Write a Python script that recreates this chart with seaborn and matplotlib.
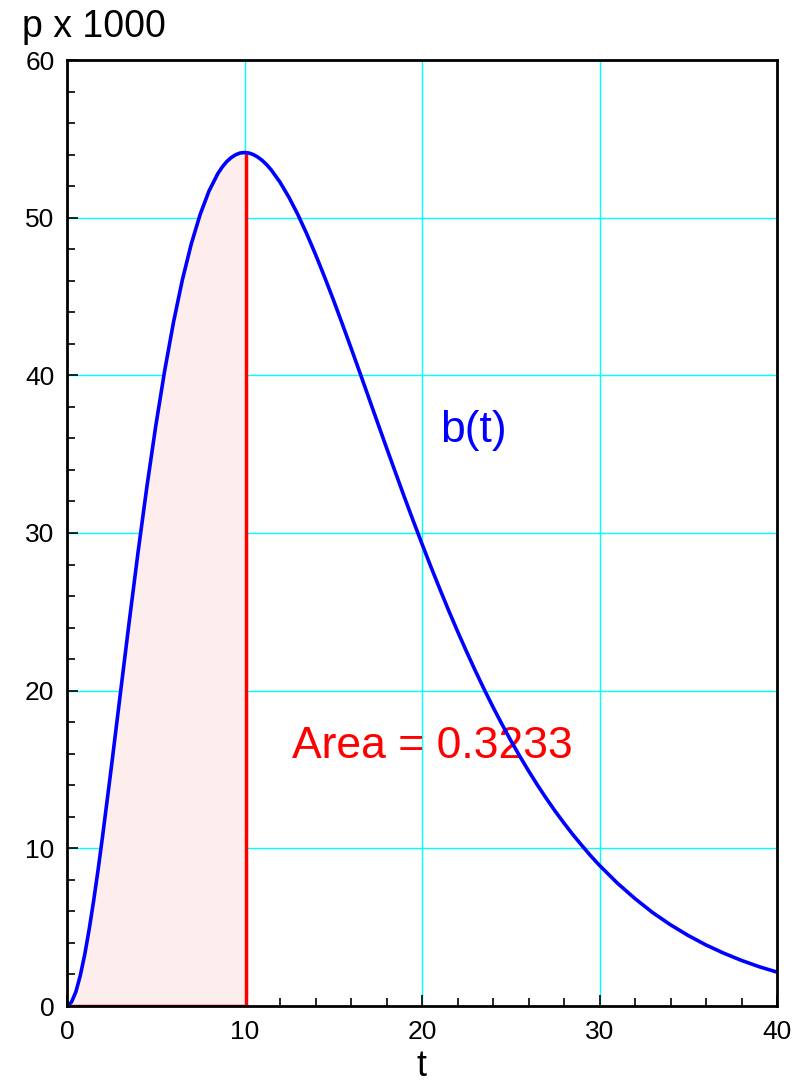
import matplotlib
matplotlib.use("Agg")
import matplotlib.pyplot as plt
import seaborn as sns
import pandas as pd
from matplotlib.ticker import MultipleLocator

# curve values (p x 1000)
t_vals = [0, 0.25, 0.5, 0.75, 1, 1.25, 1.5, 1.75, 2, 2.5, 3, 3.5, 4, 4.5, 5, 5.5, 6, 6.5,
          7, 7.5, 8, 8.5, 8.75, 9, 9.25, 9.5, 9.75, 10, 10.25, 10.5, 10.75, 11, 11.25,
          11.5, 12, 12.5, 13, 13.5, 14, 14.5, 15, 15.5, 16, 16.5, 17, 17.5, 18, 18.5,
          19, 19.5, 20, 20.5, 21, 21.5, 22, 22.5, 23, 23.5, 24, 24.5, 25, 25.5, 26,
          26.5, 27, 27.5, 28, 28.5, 29, 29.5, 30, 31, 32, 33, 34, 35, 36, 37, 38, 39, 40]
p_vals = [0.0, 0.24, 0.9, 1.94, 3.27, 4.87, 6.67, 8.63, 10.73, 15.16, 19.76, 24.33,
          28.76, 32.93, 36.79, 40.28, 43.37, 46.06, 48.33, 50.20, 51.69, 52.80, 53.22,
          53.56, 53.81, 53.99, 54.10, 54.13, 54.10, 54.00, 53.84, 53.63, 53.36,
          53.04, 52.25, 51.30, 50.21, 48.99, 47.67, 46.27, 44.81, 43.29, 41.74, 40.17,
          38.58, 36.99, 35.41, 33.85, 32.30, 30.79, 29.31, 27.86, 26.46, 25.09, 23.77,
          22.50, 21.27, 20.09, 18.96, 17.88, 16.84, 15.86, 14.92, 14.02, 13.17, 12.36,
          11.60, 10.87, 10.19, 9.53, 8.92, 7.80, 6.81, 5.92, 5.15, 4.47, 3.87, 3.35,
          2.89, 2.49, 2.15]
x_ticks = [0, 10, 20, 30, 40]
y_ticks = [0, 10, 20, 30, 40, 50, 60]
area_end = 10
area_text = "Area = 0.3233"
curve_label = "b(t)"
y_title = "p x 1000"
x_title = "t"

df = pd.DataFrame({"t": t_vals, "p": p_vals})

sns.set_style("white")
plt.rcParams["font.family"] = ["Liberation Sans", "DejaVu Sans"]
plt.rcParams["text.color"] = "black"
plt.rcParams["axes.labelcolor"] = "black"

fig = plt.figure(figsize=(8.06, 10.84), dpi=100)
ax = fig.add_axes([67/806, 1-1006/1084, (777-67)/806, (1006-60)/1084])

shade = df[df["t"] <= area_end]
ax.fill_between(shade["t"], 0, shade["p"], color="#fdeded", zorder=1, linewidth=0)
ax.plot([0, area_end], [0, 0], color="red", lw=2.5, zorder=2)
peak = shade["p"].iloc[-1]
ax.plot([area_end + 0.1, area_end + 0.1], [0, peak], color="red", lw=2.5, zorder=3)

sns.lineplot(data=df, x="t", y="p", ax=ax, color="#0000ff", lw=2.6, zorder=4)

ax.set_xlim(0, 40)
ax.set_ylim(0, 60)
ax.set_xticks(x_ticks)
ax.set_yticks(y_ticks)
ax.xaxis.set_minor_locator(MultipleLocator(2))
ax.yaxis.set_minor_locator(MultipleLocator(2))
ax.grid(True, which="major", color="#00ffff", lw=1.0, zorder=0)
ax.grid(False, which="minor")
ax.set_axisbelow(True)
ax.tick_params(which="both", direction="in", bottom=True, left=True, top=False,
               right=False, colors="black", labelsize=19, width=1.2)
ax.tick_params(which="major", length=8)
ax.tick_params(axis="x", which="major", pad=10)
ax.tick_params(axis="y", which="major", pad=9)
ax.tick_params(which="minor", length=6)
for s in ax.spines.values():
    s.set_color("black")
    s.set_linewidth(2)
    s.set_zorder(5)

ax.set_xlabel("")
ax.set_ylabel("")
fig.text(422/806, 1-1076/1084, x_title, fontsize=26, ha="center", va="baseline",
         color="black")

ax.text(21.0, 35.8, curve_label, color="#0000ff", fontsize=32, ha="left", va="baseline")
ax.text(12.65, 15.7, area_text, color="red", fontsize=32, ha="left", va="baseline")
fig.text(22/806, 1-37/1084, y_title, fontsize=27, ha="left", va="baseline", color="black")

fig.savefig("out.png", dpi=100)
